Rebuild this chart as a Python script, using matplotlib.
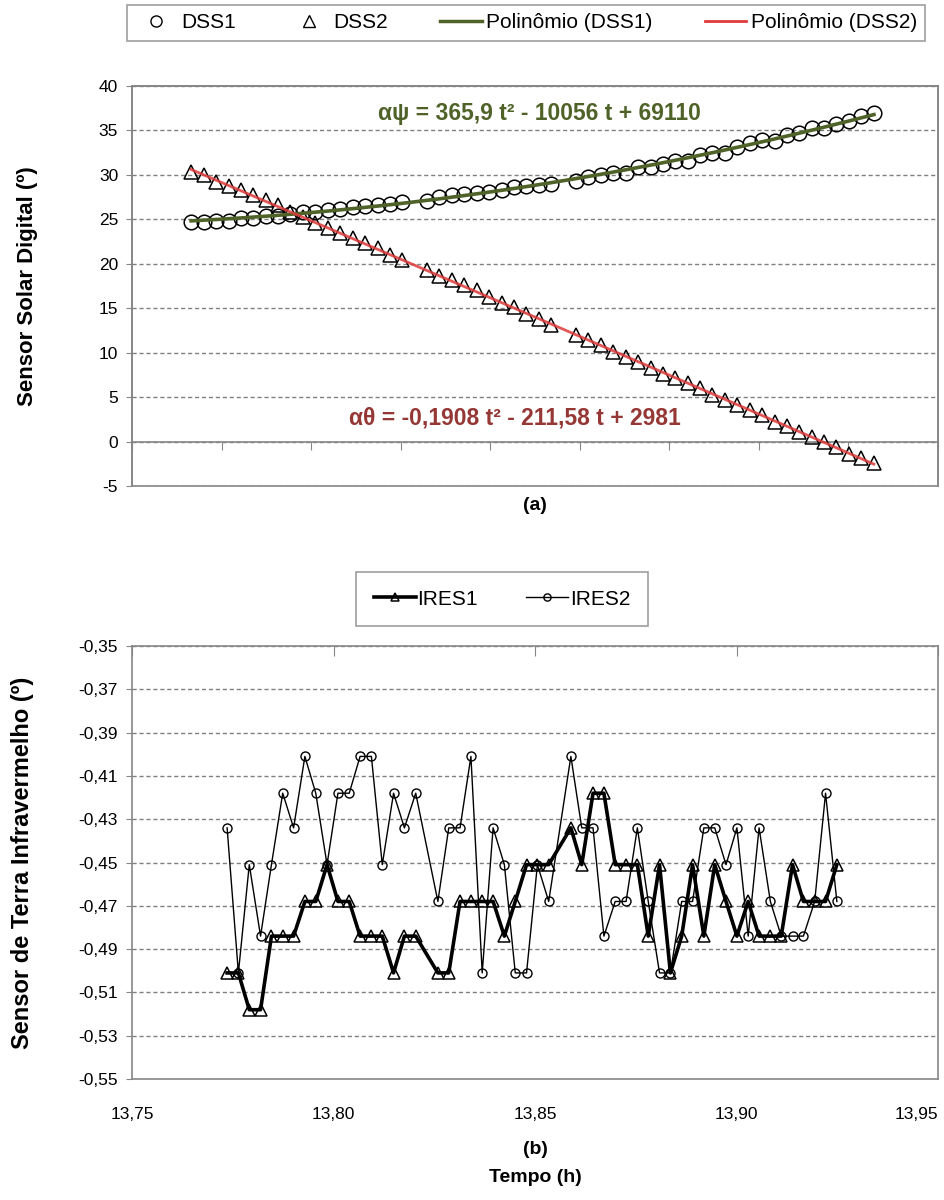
import numpy as np
import matplotlib
matplotlib.use("Agg")
from matplotlib import pyplot as plt
from matplotlib.lines import Line2D

plt.rcParams["font.family"] = ["Liberation Sans", "DejaVu Sans"]

# tempo (h) das amostras (ha duas amostras faltando)
tempo = [13.7736, 13.7764, 13.7791, 13.7819, 13.7846, 13.7874, 13.7901, 13.7929, 13.7956,
         13.7984, 13.8011, 13.8039, 13.8066, 13.8094, 13.8121, 13.8149, 13.8176, 13.8204,
         13.8259, 13.8286, 13.8314, 13.8341, 13.8369, 13.8396, 13.8424, 13.8451, 13.8479,
         13.8506, 13.8534,
         13.8589, 13.8616, 13.8644, 13.8671, 13.8699, 13.8726, 13.8754, 13.8781, 13.8809,
         13.8836, 13.8864, 13.8891, 13.8919, 13.8946, 13.8974, 13.9001, 13.9029, 13.9056,
         13.9084, 13.9111, 13.9139, 13.9166, 13.9194, 13.9221, 13.9249]

dss1 = [24.7, 24.7, 24.85, 24.85, 25.1, 25.2, 25.4, 25.4, 25.6, 25.85, 25.85, 26.05, 26.15,
        26.35, 26.5, 26.6, 26.75, 26.9,
        27.05, 27.5, 27.75, 27.9, 28.0, 28.1, 28.25, 28.6, 28.7, 28.85, 28.95,
        29.35, 29.8, 30.0, 30.25, 30.2, 30.85, 30.85, 31.25, 31.6, 31.6, 32.25, 32.5, 32.45,
        33.1, 33.55, 33.9, 33.85, 34.5, 34.7, 35.25, 35.25, 35.75, 36.1, 36.6, 36.95]

dss2 = [30.3, 30.0, 29.25, 28.7, 28.3, 27.75, 27.15, 26.6, 25.85, 25.3, 24.55, 24.0, 23.5,
        22.85, 22.3, 21.75, 21.0, 20.45,
        19.3, 18.65, 18.15, 17.6, 17.05, 16.25, 15.6, 15.1, 14.35, 13.75, 13.1,
        12.0, 11.4, 10.85, 10.1, 9.55, 9.0, 8.25, 7.65, 7.1, 6.55, 6.0, 5.25, 4.7, 4.1,
        3.55, 3.0, 2.25, 1.7, 1.1, 0.55, 0.0, -0.6, -1.35, -1.9, -2.4]

ires1 = [-0.501, -0.501, -0.518, -0.518, -0.484, -0.484, -0.484, -0.468, -0.468, -0.451,
         -0.468, -0.468, -0.484, -0.484, -0.484, -0.501, -0.484, -0.484,
         -0.501, -0.501, -0.468, -0.468, -0.468, -0.468, -0.484, -0.468, -0.451, -0.451, -0.451,
         -0.434, -0.451, -0.418, -0.418, -0.451, -0.451, -0.451, -0.484, -0.451, -0.501,
         -0.484, -0.451, -0.484, -0.451, -0.468, -0.484, -0.468, -0.484, -0.484, -0.484,
         -0.451, -0.468, -0.468, -0.468, -0.451]

ires2 = [-0.434, -0.501, -0.451, -0.484, -0.451, -0.418, -0.434, -0.401, -0.418, -0.451,
         -0.418, -0.418, -0.401, -0.401, -0.451, -0.418, -0.434, -0.418,
         -0.468, -0.434, -0.434, -0.401, -0.501, -0.434, -0.451, -0.501, -0.501, -0.451, -0.468,
         -0.401, -0.434, -0.434, -0.484, -0.468, -0.468, -0.434, -0.468, -0.501, -0.501,
         -0.468, -0.468, -0.434, -0.434, -0.451, -0.434, -0.484, -0.434, -0.468, -0.484,
         -0.484, -0.484, -0.468, -0.418, -0.468]

eq_dss1 = "αψ = 365,9 t² - 10056 t + 69110"
eq_dss2 = "αθ = -0,1908 t² - 211,58 t + 2981"

top_yticks = [-5, 0, 5, 10, 15, 20, 25, 30, 35, 40]
bot_yticks = [-0.55, -0.53, -0.51, -0.49, -0.47, -0.45, -0.43, -0.41, -0.39, -0.37, -0.35]
bot_xticks = [13.75, 13.80, 13.85, 13.90, 13.95]

GRAY = "#868686"
GREEN = "#4F6228"
RED = "#E03A3A"

fig = plt.figure(figsize=(9.44, 12), dpi=100)

# ---------------- (a) ----------------
ax1 = fig.add_axes([132 / 944, 1 - 486 / 1200, 806 / 944, 400 / 1200])
t = np.array(tempo)
tc = t.mean()
tt = np.linspace(t[0], t[-1], 200)
p1 = np.polyfit(t - tc, dss1, 2)
p2 = np.polyfit(t - tc, dss2, 2)

ax1.plot(tempo, dss1, linestyle="none", marker="o", ms=10.5, mfc="none", mec="black",
         mew=1.1, zorder=3)
ax1.plot(tempo, dss2, linestyle="none", marker="^", ms=10, mfc="none", mec="black",
         mew=1.1, zorder=3)
ax1.plot(tt, np.polyval(p1, tt - tc), color=GREEN, lw=2.6, zorder=4)
ax1.plot(tt, np.polyval(p2, tt - tc), color=RED, lw=2.0, alpha=0.85, zorder=4)

ax1.set_xlim(13.7605, 13.9391)
ax1.set_ylim(-5, 40)
ax1.set_xticks(np.linspace(13.7605, 13.9391, 10))
ax1.set_xticklabels([])
ax1.set_yticks(top_yticks)
ax1.set_yticklabels([str(v) for v in top_yticks], fontsize=12.5)
ax1.set_axisbelow(True)
ax1.yaxis.grid(True, linestyle=(0, (3, 2)), color="#808080", lw=1)
for s in ax1.spines.values():
    s.set_color(GRAY)
    s.set_linewidth(1.2)
ax1.spines["bottom"].set_position(("data", 0))
ax1.patch.set_edgecolor(GRAY)
ax1.patch.set_linewidth(1.2)
ax1.tick_params(axis="x", direction="out", length=6, color=GRAY)
ax1.tick_params(axis="y", direction="out", length=4, color=GRAY, pad=6)
ax1.set_ylabel("Sensor Solar Digital (º)", fontsize=16, weight="bold")
ax1.yaxis.set_label_coords(-0.117, 0.5)

ax1.text(0.505, 0.9325, eq_dss1, transform=ax1.transAxes, ha="center", va="center",
         fontsize=16.5, weight="bold", color=GREEN)
ax1.text(0.475, 0.17, eq_dss2, transform=ax1.transAxes, ha="center", va="center",
         fontsize=16.5, weight="bold", color="#953735")

handles = [
    Line2D([], [], linestyle="none", marker="o", ms=8, mfc="none", mec="black", mew=1),
    Line2D([], [], linestyle="none", marker="^", ms=8, mfc="none", mec="black", mew=1),
    Line2D([], [], color=GREEN, lw=2.5),
    Line2D([], [], color=RED, lw=2),
]
leg = fig.legend(handles, ["DSS1", "DSS2", "Polinômio (DSS1)", "Polinômio (DSS2)"],
                 loc="upper center", bbox_to_anchor=(526 / 944, 1 - 5 / 1200), ncol=4,
                 fontsize=15, frameon=True, fancybox=False, edgecolor=GRAY,
                 handlelength=2.0, handletextpad=0.2, columnspacing=2.5,
                 borderpad=0.4, borderaxespad=0)
leg.get_frame().set_linewidth(1.2)

fig.text(535 / 944, 1 - 505 / 1200, "(a)", ha="center", va="center", fontsize=14,
         weight="bold")

# ---------------- (b) ----------------
ax2 = fig.add_axes([132 / 944, 1 - 1079 / 1200, 806 / 944, 433 / 1200])
ax2.plot(tempo, ires1, color="black", lw=2.6, marker="^", ms=8, mfc="none", mec="black",
         mew=1.1, label="IRES1", zorder=3)
ax2.plot(tempo, ires2, color="black", lw=1.0, marker="o", ms=6.5, mfc="none", mec="black",
         mew=1.0, label="IRES2", zorder=3)
ax2.set_xlim(13.75, 13.95)
ax2.set_ylim(-0.55, -0.35)
ax2.set_xticks(bot_xticks)
xlabels = ax2.set_xticklabels([f"{v:.2f}".replace(".", ",") for v in bot_xticks],
                              fontsize=12.5)
xlabels[-1].set_horizontalalignment("right")
ax2.set_yticks(bot_yticks)
ax2.set_yticklabels([f"{v:.2f}".replace(".", ",") for v in bot_yticks], fontsize=12.5)
ax2.set_axisbelow(True)
ax2.yaxis.grid(True, linestyle=(0, (3, 2)), color="#808080", lw=1)
for s in ax2.spines.values():
    s.set_color(GRAY)
    s.set_linewidth(1.2)
ax2.tick_params(axis="x", top=True, bottom=False, labeltop=False, labelbottom=True,
                direction="in", length=7, color=GRAY, pad=20)
ax2.tick_params(axis="y", direction="out", length=4, color=GRAY, pad=6)
ax2.set_ylabel("Sensor de Terra Infravermelho (º)", fontsize=17, weight="bold")
ax2.yaxis.set_label_coords(-0.122, 0.5)

leg2 = fig.legend(handles=ax2.get_lines(), labels=["IRES1", "IRES2"], loc="upper center",
                  bbox_to_anchor=(502 / 944, 1 - 572 / 1200), ncol=2, fontsize=15,
                  frameon=True, fancybox=False, edgecolor=GRAY, handlelength=2.0,
                  handletextpad=0.1, columnspacing=2.3, borderpad=0.85, borderaxespad=0,
                  markerscale=0.8)
leg2.get_frame().set_linewidth(1.2)

fig.text(535 / 944, 1 - 1150 / 1200, "(b)", ha="center", va="center", fontsize=14,
         weight="bold")
fig.text(535 / 944, 1 - 1178 / 1200, "Tempo (h)", ha="center", va="center", fontsize=14,
         weight="bold")

fig.savefig("out.png", dpi=100)
